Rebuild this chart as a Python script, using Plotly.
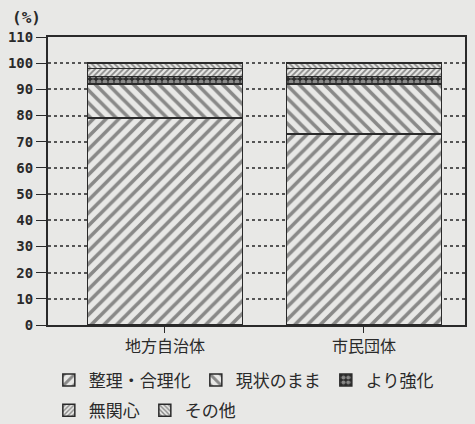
import plotly.graph_objects as go

categories = ["地方自治体", "市民団体"]
seiri = [79, 73]
genjo = [13, 19]
kyoka = [3, 3]
mukanshin = [3, 3]
sonota = [2, 2]

y_ticks = list(range(0, 111, 10))

BG = "#e8e8e6"
INK = "#2a2a2a"

# name, values, shape, size, solidity, fg, bg, legend
series = [
    ("整理・合理化", seiri, "/", 9, 0.4, INK, BG, "legend"),
    ("現状のまま", genjo, "\\", 9, 0.4, INK, BG, "legend"),
    ("より強化", kyoka, ".", 6, 0.55, BG, INK, "legend"),
    ("無関心", mukanshin, "/", 4, 0.45, INK, BG, "legend2"),
    ("その他", sonota, "\\", 4, 0.45, INK, BG, "legend2"),
]

fig = go.Figure()
for name, vals, shape, size, sol, fg, bg, lg in series:
    fig.add_trace(go.Bar(
        x=categories, y=vals, name=name, legend=lg,
        width=0.78,
        marker=dict(color=BG, line=dict(color=INK, width=1.5),
                    pattern=dict(shape=shape, size=size, solidity=sol,
                                 fgcolor=fg, bgcolor=bg)),
    ))

fig.update_layout(
    barmode="stack",
    width=467, height=416,
    margin=dict(l=40, r=10, t=29, b=99, autoexpand=False),
    paper_bgcolor=BG, plot_bgcolor=BG,
    font=dict(family="Noto Sans CJK JP", size=16, color=INK),
    xaxis=dict(range=[-0.588, 1.508], showgrid=False, showline=True, mirror=True,
               linecolor=INK, linewidth=2, ticks="outside", ticklen=6,
               tickcolor=INK, automargin=False,
               tickfont=dict(size=16, family="Noto Sans CJK JP")),
    yaxis=dict(range=[0, 110], tickvals=y_ticks, showline=True, mirror=True,
               linecolor=INK, linewidth=2, ticks="outside", ticklen=10,
               tickcolor=INK, showgrid=True, gridcolor="#555555", griddash="dot",
               gridwidth=1.5, zeroline=False, automargin=False,
               tickfont=dict(family="DejaVu Sans Mono", size=14, color=INK, weight="bold")),
    legend=dict(orientation="h", x=0.002, y=-0.13, xanchor="left", yanchor="top",
                bgcolor="rgba(0,0,0,0)", font=dict(size=17),
                traceorder="normal", itemwidth=30),
    legend2=dict(orientation="h", x=0.002, y=-0.235, xanchor="left", yanchor="top",
                 bgcolor="rgba(0,0,0,0)", font=dict(size=17),
                 traceorder="normal", itemwidth=30),
    annotations=[dict(text="(%)", x=-0.091, y=1.066, xref="paper", yref="paper",
                      xanchor="left", yanchor="middle",
                      showarrow=False, font=dict(family="DejaVu Sans Mono", size=16, weight="bold"))],
    showlegend=True,
)

fig.write_html("out.html", post_script="document.body.style.background='#e8e8e6';")
